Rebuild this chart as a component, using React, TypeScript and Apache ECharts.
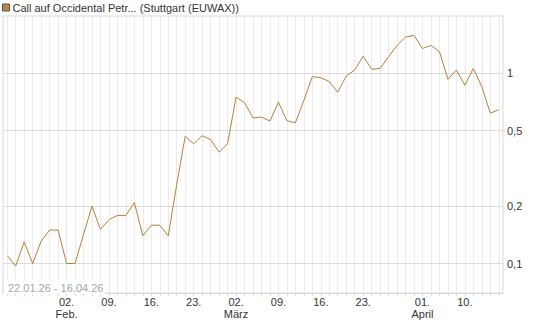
import { useEffect, useRef } from "react";
import * as echarts from "echarts";

const seriesName = "Call auf Occidental Petr... (Stuttgart (EUWAX))";
const dateRangeText = "22.01.26 - 16.04.26";

const dates = [
  "2026-01-22", "2026-01-23", "2026-01-26", "2026-01-27", "2026-01-28", "2026-01-29", "2026-01-30",
  "2026-02-02", "2026-02-03", "2026-02-04", "2026-02-05", "2026-02-06",
  "2026-02-09", "2026-02-10", "2026-02-11", "2026-02-12", "2026-02-13",
  "2026-02-16", "2026-02-17", "2026-02-18", "2026-02-19", "2026-02-20",
  "2026-02-23", "2026-02-24", "2026-02-25", "2026-02-26", "2026-02-27",
  "2026-03-02", "2026-03-03", "2026-03-04", "2026-03-05", "2026-03-06",
  "2026-03-09", "2026-03-10", "2026-03-11", "2026-03-12", "2026-03-13",
  "2026-03-16", "2026-03-17", "2026-03-18", "2026-03-19", "2026-03-20",
  "2026-03-23", "2026-03-24", "2026-03-25", "2026-03-26", "2026-03-27",
  "2026-03-30", "2026-03-31",
  "2026-04-01", "2026-04-02", "2026-04-07", "2026-04-08", "2026-04-09", "2026-04-10",
  "2026-04-13", "2026-04-14", "2026-04-15", "2026-04-16",
];

const prices = [
  0.11, 0.097, 0.13, 0.1, 0.131, 0.15, 0.15,
  0.1, 0.1, 0.142, 0.2, 0.151,
  0.17, 0.179, 0.179, 0.209, 0.14,
  0.159, 0.159, 0.14, 0.26, 0.467,
  0.426, 0.47, 0.448, 0.385, 0.426,
  0.749, 0.702, 0.583, 0.588, 0.561,
  0.705, 0.563, 0.549, 0.72, 0.96,
  0.948, 0.904, 0.795, 0.968, 1.04,
  1.23, 1.05, 1.06, 1.22, 1.4,
  1.55, 1.58,
  1.35, 1.4, 1.3, 0.93, 1.04, 0.865,
  1.06, 0.85, 0.617, 0.643,
];

const tickDates = [
  "2026-02-02", "2026-02-09", "2026-02-16", "2026-02-23",
  "2026-03-02", "2026-03-09", "2026-03-16", "2026-03-23",
  "2026-04-01", "2026-04-10",
];
const tickLabels = [
  "02.\nFeb.", "09.", "16.", "23.",
  "02.\nMärz", "09.", "16.", "23.",
  "01.\nApril", "10.",
];

const yGridValues = [0.1, 0.2, 0.5, 1];

const FONT = 'Arial, "Liberation Sans", Helvetica, sans-serif';

export default function App() {
  const ref = useRef<HTMLDivElement>(null);

  useEffect(() => {
    if (!ref.current) return;
    const chart = echarts.init(ref.current, undefined, { renderer: "svg" });
    const option: any = {
      animation: false,
      textStyle: { fontFamily: FONT },
      legend: {
        show: true,
        left: 2,
        top: 2,
        padding: 0,
        icon: "rect",
        itemWidth: 7,
        itemHeight: 7,
        selectedMode: false,
        data: [seriesName],
        itemStyle: { color: "#b8874a", borderColor: "#5a5048", borderWidth: 1 },
        textStyle: { fontSize: 11, color: "#333", fontFamily: FONT, padding: [0, 0, 0, -2] },
      },
      grid: {
        left: 3,
        right: 42,
        top: 16,
        bottom: 34,
        show: true,
        borderColor: "#d9d9d9",
        borderWidth: 1,
        backgroundColor: "transparent",
      },
      xAxis: {
        type: "category",
        data: dates,
        boundaryGap: true,
        axisLine: { show: true, lineStyle: { color: "#d9d9d9" } },
        axisTick: {
          show: true,
          alignWithLabel: true,
          interval: 0,
          length: 3,
          lineStyle: { color: "#d9d9d9" },
        },
        axisLabel: {
          interval: 0,
          margin: 3,
          fontSize: 11,
          lineHeight: 12,
          color: "#333",
          fontFamily: FONT,
          formatter: (v: string) => {
            const i = tickDates.indexOf(v);
            return i >= 0 ? tickLabels[i] : "";
          },
        },
        splitLine: {
          show: true,
          interval: 0,
          alignWithLabel: true,
          lineStyle: { color: "#ececec", width: 1 },
        },
      },
      yAxis: {
        type: "log",
        min: 0.07,
        max: 2,
        position: "right",
        axisLine: { show: false },
        axisTick: { show: false },
        axisLabel: { show: false },
        splitLine: { show: false },
      },
      series: [
        {
          type: "line",
          name: seriesName,
          data: prices,
          showSymbol: false,
          symbol: "none",
          z: 3,
          lineStyle: { color: "#b5803a", width: 1 },
          itemStyle: { color: "#b5803a" },
          emphasis: { disabled: true },
          markLine: {
            silent: true,
            z: 1,
            symbol: ["none", "none"],
            lineStyle: { color: "#dcdcdc", type: "solid", width: 1 },
            label: {
              show: true,
              position: "end",
              distance: 4,
              fontSize: 11,
              color: "#333",
              fontFamily: FONT,
              formatter: (p: any) => String(p.value).replace(".", ","),
            },
            emphasis: { disabled: true },
            data: yGridValues.map((v) => ({ yAxis: v })),
          },
        },
      ],
      graphic: [
        {
          type: "text",
          left: 4,
          top: 280,
          z: 10,
          style: {
            text: dateRangeText,
            fill: "#a0a8b4",
            font: `11px ${FONT}`,
            backgroundColor: "#fff",
            padding: [2, 2, 1, 4],
          },
        },
      ],
    };
    chart.setOption(option);
    return () => chart.dispose();
  }, []);

  return (
    <div
      ref={ref}
      style={{ position: "fixed", left: 0, top: 0, width: 545, height: 327, background: "#fff" }}
    />
  );
}
